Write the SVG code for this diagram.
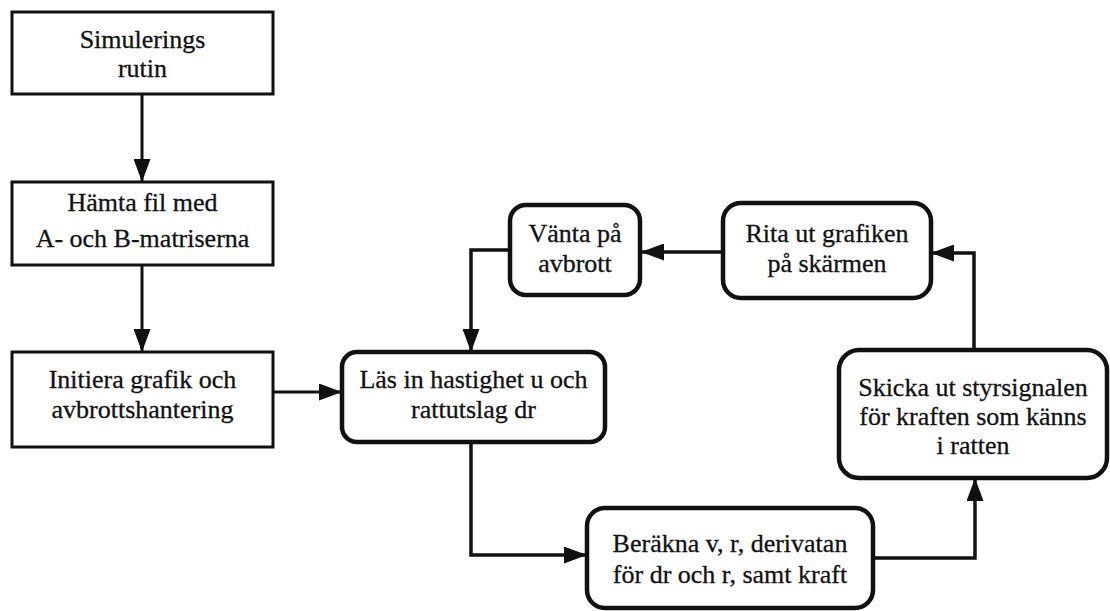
<svg xmlns="http://www.w3.org/2000/svg" width="1110" height="611" viewBox="0 0 1110 611">
<style>
.rect{fill:#fff;stroke:#111;stroke-width:3}
.rnd{fill:#fff;stroke:#111;stroke-width:4.5}
text{font-family:"Liberation Serif","Times New Roman",serif;font-size:26px;fill:#111;stroke:#111;stroke-width:0.3;text-anchor:middle}
.thin{fill:none;stroke:#111;stroke-width:3}
.thick{fill:none;stroke:#111;stroke-width:3.5}
</style>
<defs>
<marker id="ah" viewBox="0 0 23 17" refX="23" refY="8.5" markerWidth="23" markerHeight="17" orient="auto" markerUnits="userSpaceOnUse">
<path d="M0,0 L23,8.5 L0,17 z" fill="#111"/>
</marker>
</defs>
<rect width="1110" height="611" fill="#fff"/>
<g id="connectors">
<path class="thin" d="M142,94 V182" marker-end="url(#ah)"/>
<path class="thin" d="M142,265 V352" marker-end="url(#ah)"/>
<path class="thin" d="M273,392 H342" marker-end="url(#ah)"/>
<path class="thick" d="M723,252 H641" marker-end="url(#ah)"/>
<path class="thick" d="M510,250 H471 V352" marker-end="url(#ah)"/>
<path class="thick" d="M471,442 V555 H587" marker-end="url(#ah)"/>
<path class="thick" d="M873,558 H975 V478" marker-end="url(#ah)"/>
<path class="thick" d="M974,350 V253 H931" marker-end="url(#ah)"/>
</g>
<g id="n1">
<rect class="rect" x="12" y="12" width="261" height="82"/>
<text x="142.5" y="48">Simulerings</text>
<text x="142.5" y="77">rutin</text>
</g>
<g id="n2">
<rect class="rect" x="12" y="182" width="261" height="83"/>
<text x="142.5" y="211">Hämta fil med</text>
<text x="142.5" y="247">A- och B-matriserna</text>
</g>
<g id="n3">
<rect class="rect" x="12" y="352" width="261" height="95"/>
<text x="142.5" y="388">Initiera grafik och</text>
<text x="142.5" y="418">avbrottshantering</text>
</g>
<g id="n4">
<rect class="rnd" x="342" y="352" width="263" height="90" rx="15"/>
<text x="473.5" y="388">Läs in hastighet u och</text>
<text x="473.5" y="418">rattutslag dr</text>
</g>
<g id="n5">
<rect class="rnd" x="510" y="205" width="130" height="90" rx="16"/>
<text x="575" y="242">Vänta på</text>
<text x="575" y="272">avbrott</text>
</g>
<g id="n6">
<rect class="rnd" x="723" y="203" width="208" height="95" rx="18"/>
<text x="827" y="242">Rita ut grafiken</text>
<text x="827" y="272">på skärmen</text>
</g>
<g id="n7">
<rect class="rnd" x="839" y="350" width="268" height="128" rx="20"/>
<text x="973" y="396">Skicka ut styrsignalen</text>
<text x="973" y="425">för kraften som känns</text>
<text x="973" y="454">i ratten</text>
</g>
<g id="n8">
<rect class="rnd" x="587" y="508" width="286" height="100" rx="18"/>
<text x="730" y="552">Beräkna v, r, derivatan</text>
<text x="730" y="583">för dr och r, samt kraft</text>
</g>
</svg>
